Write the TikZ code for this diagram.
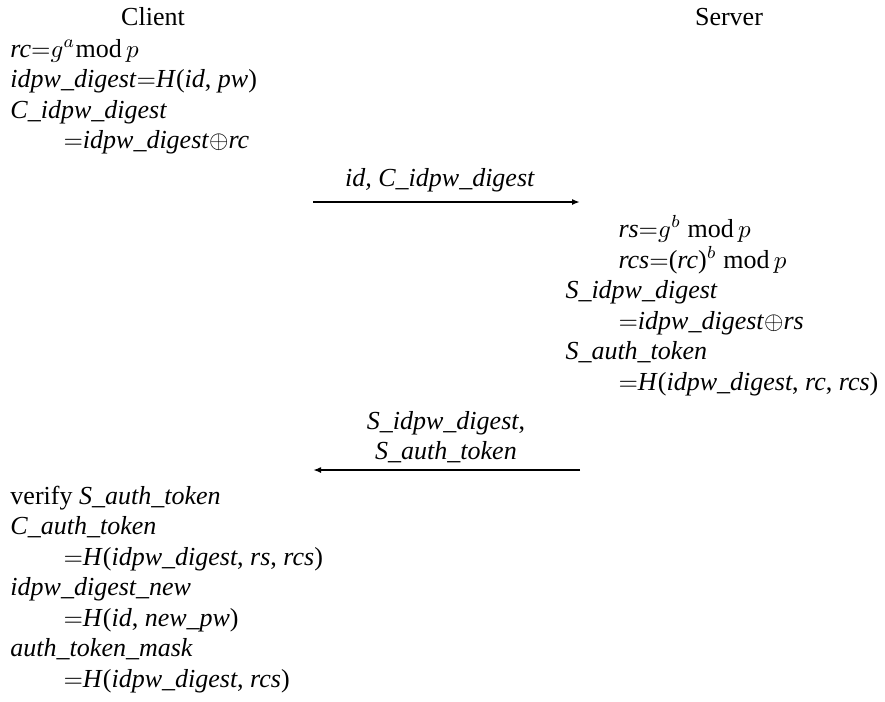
\documentclass[tikz,border=0pt]{standalone}
\usepackage{fontspec}
\setmainfont{Liberation Serif}
\usetikzlibrary{arrows.meta}
\newcommand\vi[1]{\textit{#1}}
\begin{document}
\begin{tikzpicture}[x=0.4pt,y=-0.4pt,
  every node/.style={inner sep=0pt,font=\fontsize{10.4}{12.5}\selectfont},
  ln/.style={anchor=base west},
  hd/.style={anchor=base},
  msg/.style={line width=0.8pt,-{Latex[length=3.2pt,width=2.4pt]}}]
\useasboundingbox (0,0) rectangle (885,701);
% headers
\node[hd] (client) at (153,25) {Client};
\node[hd] (server) at (729,25) {Server};
% client first block
\node[ln] (c1) at (10,57) {\vi{rc}${=}g^a$mod\,$p$};
\node[ln] (c2) at (10,87.5) {\vi{idpw\_digest}${=}$\vi{H}(\vi{id}, \vi{pw})};
\node[ln] (c3) at (10,118) {\vi{C\_idpw\_digest}};
\node[ln] (c4) at (63,148.5) {${=}$\vi{idpw\_digest}$\oplus$\vi{rc}};
% message 1
\node[hd] (m1) at (440,186) {\vi{id, C\_idpw\_digest}};
\coordinate (a1s) at (313,202);
\coordinate (a1e) at (580,202);
\draw[msg] (a1s) -- (a1e);
% server block
\node[ln] (s1) at (618,237) {\vi{rs}${=}g^b$ mod\,$p$};
\node[ln] (s2) at (618,268) {\vi{rcs}${=}$(\vi{rc})$^b$ mod\,$p$};
\node[ln] (s3) at (565,298.5) {\vi{S\_idpw\_digest}};
\node[ln] (s4) at (618,329) {${=}$\vi{idpw\_digest}$\oplus$\vi{rs}};
\node[ln] (s5) at (565,359.5) {\vi{S\_auth\_token}};
\node[ln] (s6) at (618,390) {${=}$\vi{H}(\vi{idpw\_digest}, \vi{rc}, \vi{rcs})};
% message 2
\node[hd] (m2a) at (446,429) {\vi{S\_idpw\_digest},};
\node[hd] (m2b) at (446,459) {\vi{S\_auth\_token}};
\coordinate (a2s) at (580,470);
\coordinate (a2e) at (313,470);
\draw[msg] (a2s) -- (a2e);
% client second block
\node[ln] (d1) at (10,504) {verify \vi{S\_auth\_token}};
\node[ln] (d2) at (10,534.5) {\vi{C\_auth\_token}};
\node[ln] (d3) at (63,565) {${=}$\vi{H}(\vi{idpw\_digest}, \vi{rs}, \vi{rcs})};
\node[ln] (d4) at (10,595.5) {\vi{idpw\_digest\_new}};
\node[ln] (d5) at (63,626) {${=}$\vi{H}(\vi{id}, \vi{new\_pw})};
\node[ln] (d6) at (10,656.5) {\vi{auth\_token\_mask}};
\node[ln] (d7) at (63,687) {${=}$\vi{H}(\vi{idpw\_digest}, \vi{rcs})};
\end{tikzpicture}
\end{document}
